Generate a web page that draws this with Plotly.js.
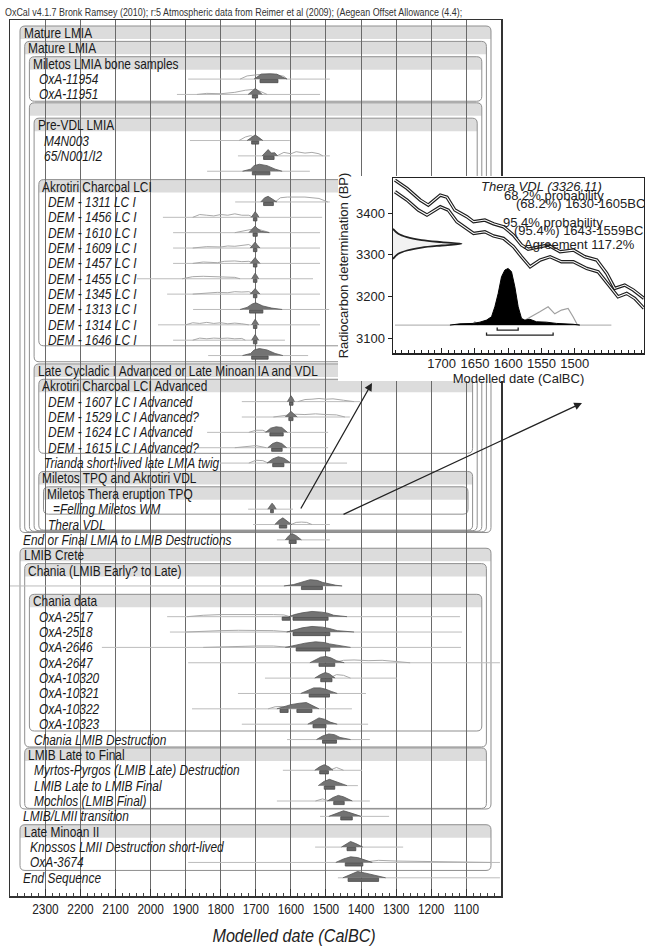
<!DOCTYPE html>
<html><head><meta charset="utf-8">
<script src="https://cdn.plot.ly/plotly-3.0.1.min.js"></script>
<style>html,body{margin:0;padding:0;background:#fff}#chart{width:645px;height:951px}</style>
</head><body><div id="chart"></div>
<script>
// ---------------- DATA ----------------
const titleText = "OxCal v4.1.7 Bronk Ramsey (2010); r:5 Atmospheric data from Reimer et al (2009); (Aegean Offset Allowance (4.4);";
const xTickYears = [2300,2200,2100,2000,1900,1800,1700,1600,1500,1400,1300,1200,1100];

const rowLabels = [
 "Mature LMIA","Mature LMIA","Miletos LMIA bone samples","OxA-11954","OxA-11951",
 "","Pre-VDL LMIA","M4N003","65/N001/I2","",
 "Akrotiri Charcoal LCI","DEM - 1311 LC I","DEM - 1456 LC I","DEM - 1610 LC I","DEM - 1609 LC I",
 "DEM - 1457 LC I","DEM - 1455 LC I","DEM - 1345 LC I","DEM - 1313 LC I","DEM - 1314 LC I",
 "DEM - 1646 LC I","","Late Cycladic I Advanced or Late Minoan IA and VDL","Akrotiri Charcoal LCI Advanced","DEM - 1607 LC I Advanced",
 "DEM - 1529 LC I Advanced?","DEM - 1624 LC I Advanced","DEM - 1615 LC I Advanced?","Trianda short-lived late LMIA twig","Miletos TPQ and Akrotiri VDL",
 "Miletos Thera eruption TPQ","=Felling Miletos WM","Thera VDL","End or Final LMIA to LMIB Destructions","LMIB Crete",
 "Chania (LMIB Early? to Late)","","Chania data","OxA-2517","OxA-2518",
 "OxA-2646","OxA-2647","OxA-10320","OxA-10321","OxA-10322",
 "OxA-10323","Chania LMIB Destruction","LMIB Late to Final","Myrtos-Pyrgos (LMIB Late) Destruction","LMIB Late to LMIB Final",
 "Mochlos (LMIB Final)","LMIB/LMII transition","Late Minoan II","Knossos LMII Destruction short-lived","OxA-3674",
 "End Sequence"];

// groups (boxes): first row (header), last row, nesting level
const groupFirst = [0,1,2,5,6,10,22,23,29,30,34,35,37,47,52];
const groupLast  = [32,32,4,32,21,20,32,27,32,31,50,46,45,50,54];
const groupLevel = [1,2,3,3,4,5,4,5,5,6,1,2,3,2,1];

// range lines (years BC)
const rangeRow = [3,4,7,8,9,11,12,13,14,15,16,17,18,19,20,21,24,25,26,27,28,31,32,33,36,38,39,40,41,42,43,44,45,46,48,49,50,51,53,54,55];
const rangeLo  = [1893,1925,1888,1751,1839,1759,1965,1936,1936,1936,2039,1953,1879,1979,1936,1836,1740,1740,1839,1868,1802,1722,1708,1640,2401,1953,1945,2139,1893,1674,1751,1882,1740,1611,1623,1503,1640,1517,1531,1893,1466];
const rangeHi  = [1489,1517,1603,1489,1546,1489,1511,1517,1517,1517,1537,1517,1491,1517,1617,1551,1403,1432,1494,1494,1440,1594,1489,1489,1454,1118,1112,1115,1004,1298,1386,1426,1380,1375,1397,1409,1375,1320,1280,1004,1004];

// posterior distributions: years and relative heights
const postRow = [3,4,7,8,9,11,12,13,14,15,16,17,18,19,20,21,24,25,26,27,28,31,32,33,36,38,39,40,41,42,43,44,45,46,48,49,50,51,53,54,55];
const postX = [
 [1705,1695,1685,1660,1640,1625,1611],[1722,1712,1702,1692,1682],[1725,1712,1702,1692,1680],[1682,1672,1665,1656,1646,1638],
 [1738,1715,1705,1690,1668,1645,1625],[1686,1675,1665,1652,1640],[1713,1706,1702,1697,1691],[1720,1708,1702,1696,1685,1662],
 [1716,1707,1702,1697,1688],[1716,1707,1702,1697,1688],[1712,1706,1702,1698,1692],[1716,1707,1702,1697,1688],
 [1745,1725,1710,1700,1680,1655,1625],[1712,1706,1702,1698,1692],[1712,1706,1702,1698,1692],[1738,1715,1705,1690,1668,1645,1623],
 [1610,1603,1600,1596,1590],[1616,1606,1600,1593,1582],[1672,1658,1642,1626,1610],[1666,1652,1640,1626,1612],
 [1668,1652,1636,1620,1600],[1666,1659,1654,1649,1642],[1646,1634,1623,1612,1598],[1616,1606,1597,1585,1570],
 [1620,1592,1572,1545,1525,1509,1472,1454],[1606,1590,1568,1540,1512,1495,1478,1440],[1612,1590,1568,1540,1510,1490,1468,1420],
 [1616,1590,1560,1530,1505,1490,1460,1430],[1546,1530,1515,1500,1486,1470,1448],[1532,1516,1502,1490,1474],
 [1572,1552,1535,1516,1500,1485,1468],[1640,1620,1600,1576,1556,1540,1520],[1552,1536,1520,1504,1488,1468],
 [1527,1510,1492,1476,1460,1430],[1532,1518,1505,1492,1480],[1522,1506,1490,1470,1440],[1496,1480,1465,1450,1425],
 [1492,1470,1450,1430,1400],[1456,1441,1430,1415,1395],[1472,1450,1430,1410,1386,1368],[1452,1426,1410,1390,1360,1330]];
const postH = [
 [0,0.35,0.7,0.75,0.7,0.3,0],[0,0.5,0.85,0.5,0],[0,0.5,0.8,0.45,0],[0,0.5,0.9,0.4,0.45,0],
 [0,0.3,0.8,1,0.8,0.3,0],[0,0.6,0.8,0.4,0],[0,0.5,0.8,0.5,0],[0,0.6,0.95,0.6,0.2,0],
 [0,0.55,0.85,0.5,0],[0,0.55,0.85,0.5,0],[0,0.5,0.8,0.5,0],[0,0.5,0.8,0.5,0],
 [0,0.3,0.8,0.95,0.5,0.2,0],[0,0.5,0.8,0.5,0],[0,0.5,0.8,0.5,0],[0,0.3,0.8,1,0.8,0.3,0],
 [0,0.6,0.85,0.6,0],[0,0.55,0.8,0.5,0],[0,0.6,0.8,0.7,0],[0,0.6,0.8,0.6,0],
 [0,0.6,0.9,0.7,0],[0,0.6,0.85,0.6,0],[0,0.6,0.95,0.5,0],[0,0.6,0.9,0.6,0],
 [0,0.2,0.5,0.9,0.8,0.5,0.1,0],[0,0.3,0.55,0.75,0.65,0.5,0.2,0],[0,0.3,0.6,0.8,0.7,0.5,0.2,0],
 [0,0.3,0.6,0.8,0.7,0.5,0.2,0],[0,0.4,0.8,0.9,0.7,0.3,0],[0,0.5,0.8,0.6,0],
 [0,0.4,0.8,0.8,0.6,0.3,0],[0,0.3,0.6,0.8,0.9,0.5,0],[0,0.5,0.9,0.7,0.3,0],
 [0,0.5,0.8,0.7,0.3,0],[0,0.5,0.8,0.5,0],[0,0.6,0.9,0.5,0],[0,0.5,0.8,0.6,0],
 [0,0.4,0.8,0.5,0],[0,0.5,0.8,0.5,0],[0,0.5,0.8,0.7,0.3,0],[0,0.6,0.9,0.7,0.3,0]];

// prior (likelihood) outlines
const priorRow = [3,4,7,8,11,12,13,14,15,16,17,19,20,24,25,26,27,28,32,38,39,40,41,42,44,48,50,54];
const priorX = [
 [1745,1725,1700,1680,1650,1620,1611],[1868,1840,1800,1760,1730,1710,1690,1668],[1748,1730,1715,1700,1690],
 [1640,1620,1600,1585,1560,1540,1520,1509],[1645,1630,1610,1560,1520,1495],
 [1880,1860,1840,1820,1800,1780,1760,1740,1720,1708],[1760,1740,1720,1700,1680,1660],
 [1880,1840,1800,1780,1760,1740,1720,1705],[1880,1850,1810,1790,1760,1740,1720,1705],
 [1910,1880,1850,1820,1790,1760,1745],[1880,1840,1810,1780,1760,1740,1720,1705],
 [1900,1880,1860,1840,1820,1800,1780,1760,1740,1720],[1880,1860,1840,1820,1800,1780,1760,1740,1730],
 [1580,1560,1540,1520,1500,1480,1450,1420],[1650,1620,1590,1560,1530,1500,1470,1446],
 [1720,1700,1680,1668],[1760,1720,1700,1670],[1720,1700,1680,1665],[1600,1585,1570,1555,1540],
 [1896,1850,1800,1750,1700,1650,1620,1603],[1900,1850,1800,1750,1700,1650,1600],[1850,1800,1750,1700,1650,1600],
 [1480,1450,1420,1380,1340,1300,1260],[1490,1470,1450,1430],[1665,1645,1625,1605],[1490,1470,1450],[1530,1510,1490],
 [1400,1350,1300,1250,1200,1100,1030]];
const priorH = [
 [0,0.45,0.6,0.7,0.7,0.4,0],[0,0.15,0.1,0.3,0.6,0.7,0.5,0],[0,0.5,0.7,0.4,0],
 [0,0.5,0.3,0.6,0.4,0.5,0.3,0],[0,0.6,0.7,0.7,0.5,0],
 [0,0.4,0.3,0.2,0.4,0.3,0.5,0.3,0.3,0],[0,0.2,0.5,0.6,0.3,0],
 [0,0.2,0.15,0.3,0.25,0.4,0.5,0],[0,0.2,0.1,0.3,0.35,0.25,0.3,0],
 [0,0.3,0.35,0.3,0.3,0.2,0],[0,0.15,0.25,0.2,0.35,0.3,0.35,0],
 [0,0.3,0.2,0.35,0.2,0.3,0.15,0.25,0.15,0],[0,0.3,0.2,0.3,0.25,0.3,0.2,0.25,0],
 [0,0.3,0.35,0.45,0.35,0.4,0.2,0],[0,0.2,0.4,0.35,0.45,0.35,0.3,0],
 [0,0.3,0.3,0],[0,0.2,0.3,0],[0,0.4,0.35,0],[0,0.3,0.35,0.3,0],
 [0,0.2,0.3,0.35,0.3,0.3,0.25,0],[0,0.15,0.2,0.25,0.25,0.2,0],[0,0.1,0.15,0.2,0.2,0],
 [0,0.35,0.4,0.3,0.35,0.2,0],[0,0.5,0.4,0],[0,0.3,0.35,0],[0,0.4,0],[0,0.3,0],
 [0,0.3,0.2,0.15,0.15,0.1,0]];

// highest-density range bars
const barRow = [3,4,7,8,9,11,12,13,14,15,16,17,18,19,20,21,24,25,26,27,28,31,32,33,36,38,38,39,40,41,42,43,44,44,45,46,48,49,50,51,53,54,55];
const barLo  = [1688,1710,1712,1678,1710,1678,1707,1708,1707,1707,1707,1707,1718,1707,1707,1712,1604,1606,1660,1655,1652,1658,1633,1605,1570,1625,1594,1594,1585,1520,1515,1548,1631,1583,1537,1510,1518,1505,1478,1458,1440,1445,1437];
const barHi  = [1637,1695,1692,1648,1660,1650,1697,1696,1697,1697,1697,1697,1680,1697,1697,1665,1594,1594,1622,1625,1620,1650,1612,1585,1510,1603,1494,1489,1489,1475,1483,1490,1608,1540,1500,1470,1493,1475,1448,1425,1415,1395,1350];

// ---- inset: Thera VDL calibration ----
const insetYearTicks = [1700,1650,1600,1550,1500];
const insetBPTicks = [3100,3200,3300,3400];
const calYearU = [1770,1752,1732,1720,1702,1692,1680,1662,1652,1635,1622,1607,1592,1580,1570,1555,1540,1522,1502,1485,1467,1452,1440,1425,1412,1396];
const calUpper = [3479,3459,3431,3419,3443,3438,3407,3391,3379,3383,3374,3367,3347,3323,3313,3318,3323,3307,3311,3295,3287,3255,3219,3227,3215,3195];
const calYearL = [1770,1752,1735,1722,1702,1690,1677,1662,1652,1635,1622,1607,1592,1580,1567,1552,1537,1520,1502,1482,1465,1447,1435,1422,1410,1396];
const calLower = [3451,3431,3407,3395,3415,3407,3379,3363,3351,3355,3345,3339,3319,3295,3271,3287,3295,3283,3283,3267,3259,3223,3199,3207,3195,3171];
const c14BP   = [3362,3350,3342,3335,3330,3326,3322,3317,3310,3302,3290];
const c14Year = [1773,1765,1752,1730,1700,1670,1700,1730,1752,1765,1773];
const vdlPostYear = [1687.5,1672.5,1652.5,1642.5,1632.5,1625,1620,1615,1610,1605,1600,1595,1590,1585,1580,1575,1567.5,1557.5,1542.5,1527.5,1502.5,1492.5];
const vdlPostBP   = [3131,3134,3135,3138,3143,3151,3175,3207,3247,3263,3267,3259,3223,3175,3147,3143,3145,3139,3138,3135,3133,3131];
const vdlPriorYear = [1655,1650,1645,null,1572.5,1562.5,1552.5,1540,1530,1520,1510,1502.5,1496.5,1492.5];
const vdlPriorBP   = [3131,3139,3131,null,3145,3155,3163,3175,3158,3167,3171,3151,3133,3131];
const vdlBaseYear = [1770,1445];
const vdlBaseBP = 3131;
const range68 = [1616.5,1585];
const range95 = [1632.5,1532.5];
const insetText = ["<i>Thera VDL (3326,11)</i>","68.2% probability","(68.2%) 1630-1605BC","95.4% probability","(95.4%) 1643-1559BC","Agreement 117.2%"];

// ---------------- LAYOUT HELPERS ----------------
const W = 645, H = 951;
const NARROW = '"Liberation Sans",Arial,sans-serif';   // compressed horizontally after drawing
const ARIAL = '"Liberation Sans",Arial,sans-serif';
const SQUEEZE = 0.85;
const ROW0 = 33, ROWPX = 15.36;
const PL = 10, PR = 501, PT = 20, PB = 896;
const yTop = (PT - ROW0) / ROWPX, yBot = (PB - ROW0) / ROWPX;
const px = p => p / W;
const py = p => 1 - p / H;
const boxLeft = L => 20 + 4.7 * (L - 1);
const boxRight = L => 491 - 4.6 * (L - 1);
const HS = 7 / ROWPX;

const traces = [];
{
  const x = [], y = [];
  rangeRow.forEach((r, i) => { x.push(rangeLo[i], rangeHi[i], null); y.push(r, r, null); });
  traces.push({type:'scatter', mode:'lines', x, y, line:{color:'#bcbcbc', width:1}, hoverinfo:'skip'});
}
{
  const x = [], y = [];
  priorRow.forEach((r, i) => { priorX[i].forEach((v, j) => { x.push(v); y.push(r - priorH[i][j] * HS); }); x.push(null); y.push(null); });
  traces.push({type:'scatter', mode:'lines', x, y, line:{color:'#a9a9a9', width:1}, hoverinfo:'skip'});
}
{
  const x = [], y = [];
  postRow.forEach((r, i) => { postX[i].forEach((v, j) => { x.push(v); y.push(r - postH[i][j] * HS); }); x.push(null); y.push(null); });
  traces.push({type:'scatter', mode:'lines', x, y, fill:'toself', fillcolor:'#737373', line:{color:'#555', width:0.8}, hoverinfo:'skip'});
}
{
  const x = [], y = [];
  const t = 0.4 / ROWPX, b = 3.6 / ROWPX;
  barRow.forEach((r, i) => { x.push(barLo[i], barHi[i], barHi[i], barLo[i], barLo[i], null); y.push(r + t, r + t, r + b, r + b, r + t, null); });
  traces.push({type:'scatter', mode:'lines', x, y, fill:'toself', fillcolor:'#666', line:{color:'#4a4a4a', width:0.8}, hoverinfo:'skip'});
}
// cover subplot (white panel behind the inset)
traces.push({type:'scatter', mode:'markers', x:[0], y:[0], xaxis:'x2', yaxis:'y2', marker:{opacity:0}, hoverinfo:'skip'});
// inset traces: calibration curve drawn as hollow double lines
[[calYearU, calUpper], [calYearL, calLower]].forEach(([xs, ys]) => {
  traces.push({type:'scatter', mode:'lines', x:xs, y:ys, xaxis:'x3', yaxis:'y3', line:{color:'#1e1e1e', width:3.4}, hoverinfo:'skip'});
  traces.push({type:'scatter', mode:'lines', x:xs, y:ys, xaxis:'x3', yaxis:'y3', line:{color:'#ffffff', width:1.1}, hoverinfo:'skip'});
});
traces.push({type:'scatter', mode:'lines', x:c14Year, y:c14BP, xaxis:'x3', yaxis:'y3', fill:'toself', fillcolor:'#f2f2f2', line:{color:'#222', width:1.8, shape:'spline'}, hoverinfo:'skip'});
traces.push({type:'scatter', mode:'lines', x:vdlBaseYear, y:[vdlBaseBP, vdlBaseBP], xaxis:'x3', yaxis:'y3', line:{color:'#b8b8b8', width:1.2}, hoverinfo:'skip'});
traces.push({type:'scatter', mode:'lines', x:vdlPriorYear, y:vdlPriorBP, xaxis:'x3', yaxis:'y3', line:{color:'#a0a0a0', width:1.2}, hoverinfo:'skip'});
traces.push({type:'scatter', mode:'lines', x:vdlPostYear, y:vdlPostBP, xaxis:'x3', yaxis:'y3', fill:'toself', fillcolor:'#000', line:{color:'#000', width:1}, hoverinfo:'skip'});
traces.push({type:'scatter', mode:'lines', x:[range68[0],range68[0],range68[1],range68[1]], y:[3125,3119,3119,3125], xaxis:'x3', yaxis:'y3', line:{color:'#222', width:1.3}, hoverinfo:'skip'});
traces.push({type:'scatter', mode:'lines', x:[range95[0],range95[0],range95[1],range95[1]], y:[3113,3107,3107,3113], xaxis:'x3', yaxis:'y3', line:{color:'#222', width:1.3}, hoverinfo:'skip'});

// shapes: group boxes
const shapes = [];
const f = v => v.toFixed(5);
groupFirst.forEach((g0, i) => {
  const L = groupLevel[i];
  const xl = px(boxLeft(L)), xr = px(boxRight(L));
  const yt = g0 - 7 / ROWPX, yb = groupLast[i] + (5 + (6 - L) * 0.6) / ROWPX, yband = g0 + 6 / ROWPX;
  const rx = 5 / W, ry = 5 / ROWPX;
  const band = `M${f(xl)},${f(yband)} L${f(xl)},${f(yt+ry)} Q${f(xl)},${f(yt)} ${f(xl+rx)},${f(yt)} L${f(xr-rx)},${f(yt)} Q${f(xr)},${f(yt)} ${f(xr)},${f(yt+ry)} L${f(xr)},${f(yband)} Z`;
  shapes.push({type:'path', xref:'paper', yref:'y', path:band, fillcolor:'#dcdcdc', line:{width:0}, layer:'below'});
  const box = `M${f(xl+rx)},${f(yt)} L${f(xr-rx)},${f(yt)} Q${f(xr)},${f(yt)} ${f(xr)},${f(yt+ry)} L${f(xr)},${f(yb-ry)} Q${f(xr)},${f(yb)} ${f(xr-rx)},${f(yb)} L${f(xl+rx)},${f(yb)} Q${f(xl)},${f(yb)} ${f(xl)},${f(yb-ry)} L${f(xl)},${f(yt+ry)} Q${f(xl)},${f(yt)} ${f(xl+rx)},${f(yt)} Z`;
  shapes.push({type:'path', xref:'paper', yref:'y', path:box, line:{color:'#8f8f8f', width:1}, layer:'below'});
});

// annotations
const annotations = [];
const squeezeIdx = new Set();
rowLabels.forEach((lab, r) => {
  if (!lab) return;
  const gi = groupFirst.indexOf(r);
  let xpx, text;
  if (gi >= 0) { xpx = boxLeft(groupLevel[gi]) + 2.5; text = lab; }
  else {
    let L = 0;
    groupFirst.forEach((g0, k) => { if (g0 <= r && r <= groupLast[k] && groupLevel[k] > L) L = groupLevel[k]; });
    xpx = L === 0 ? 22 : boxLeft(L) + 8.5;
    text = '<i>' + lab + '</i>';
  }
  squeezeIdx.add(annotations.length);
  annotations.push({xref:'paper', yref:'y', x:px(xpx), y:r, xanchor:'left', yanchor:'middle', text, showarrow:false, borderpad:0,
    font:{family:NARROW, size:14, color:'#1a1a1a'}});
});
squeezeIdx.add(annotations.length);
annotations.push({xref:'paper', yref:'paper', x:px(294), y:py(935), xanchor:'center', yanchor:'middle', showarrow:false,
  text:'<i>Modelled date (CalBC)</i>', font:{family:NARROW, size:19, color:'#222'}});
const insetTextX = [541, 554, 580, 553, 578, 579];
const insetTextY = [186, 195, 203, 222, 230, 245];
insetText.forEach((t, i) => annotations.push({xref:'paper', yref:'paper', x:px(insetTextX[i]), y:py(insetTextY[i]), xanchor:'center', yanchor:'middle',
  showarrow:false, text:t, borderpad:0, font:{family:ARIAL, size:13, color:'#222'}}));
annotations.push({xref:'paper', yref:'paper', x:px(372), y:py(383), ax:-72, ay:127, showarrow:true, arrowhead:2, arrowsize:1.2, arrowwidth:1.3, arrowcolor:'#222', text:''});
annotations.push({xref:'paper', yref:'paper', x:px(582), y:py(403), ax:-240, ay:112, showarrow:true, arrowhead:2, arrowsize:1.2, arrowwidth:1.3, arrowcolor:'#222', text:''});

const layout = {
  width: W, height: H, margin:{l:0, r:0, t:0, b:0}, paper_bgcolor:'#fff', plot_bgcolor:'#fff', showlegend:false,
  title:{text:titleText, x:px(5), xanchor:'left', y:py(12), yanchor:'middle', font:{family:NARROW, size:10.5, color:'#333'}},
  xaxis:{domain:[px(PL), px(PR)], anchor:'y', range:[2401, 1001], tickmode:'array', tickvals:xTickYears,
    showgrid:true, gridcolor:'#6a6a6a', gridwidth:1, zeroline:false,
    ticks:'inside', ticklen:7, tickcolor:'#333', tickwidth:1,
    minor:{dtick:20, tick0:1000, ticks:'inside', ticklen:3.5, tickcolor:'#444', showgrid:false},
    showline:true, linecolor:'#333', linewidth:1.5, mirror:true,
    tickfont:{family:NARROW, size:14, color:'#222'}},
  yaxis:{domain:[py(PB), py(PT)], anchor:'x', range:[yBot, yTop], showgrid:false, zeroline:false, showticklabels:false,
    ticks:'', showline:true, linecolor:'#333', linewidth:1.5, mirror:true},
  xaxis2:{domain:[px(338), 1], anchor:'y2', range:[0,1], visible:false},
  yaxis2:{domain:[py(381), py(176)], anchor:'x2', range:[0,1], visible:false},
  xaxis3:{domain:[px(393), px(644)], anchor:'y3', range:[1773, 1396], tickmode:'array', tickvals:insetYearTicks,
    ticks:'inside', ticklen:5, tickcolor:'#222', minor:{dtick:10, tick0:1500, ticks:'inside', ticklen:3, tickcolor:'#222'},
    showgrid:false, zeroline:false, showline:true, linecolor:'#222', linewidth:1.5, mirror:true, ticklabelstandoff:-2,
    tickfont:{family:ARIAL, size:13, color:'#222'},
    title:{text:'Modelled date (CalBC)', standoff:0, font:{family:ARIAL, size:13, color:'#222'}}},
  yaxis3:{domain:[py(353), py(178)], anchor:'x3', range:[3064, 3484], tickmode:'array', tickvals:insetBPTicks,
    ticks:'outside', ticklen:4, tickcolor:'#222', showgrid:false, zeroline:false, showline:true, linecolor:'#222', linewidth:1.5, mirror:true,
    tickfont:{family:ARIAL, size:13, color:'#222'},
    title:{text:'Radiocarbon determination (BP)', standoff:4, font:{family:ARIAL, size:13, color:'#222'}}},
  shapes, annotations
};

function squeeze(el, origin) {
  el.style.transformBox = 'fill-box';
  el.style.transformOrigin = origin;
  el.style.transform = 'scaleX(' + SQUEEZE + ')';
}
Plotly.newPlot('chart', traces, layout, {staticPlot:true, displayModeBar:false}).then(gd => {
  gd.querySelectorAll('g.annotation').forEach(g => {
    const i = +g.getAttribute('data-index');
    if (!squeezeIdx.has(i)) return;
    const t = g.querySelector('text');
    if (t) squeeze(t, annotations[i].xanchor === 'left' ? '0% 50%' : '50% 50%');
  });
  const title = gd.querySelector('.gtitle');
  if (title) squeeze(title, '0% 50%');
  gd.querySelectorAll('g.subplot.xy .xaxislayer-above g.xtick').forEach(g => squeeze(g, '50% 50%'));
});
</script>
</body></html>
